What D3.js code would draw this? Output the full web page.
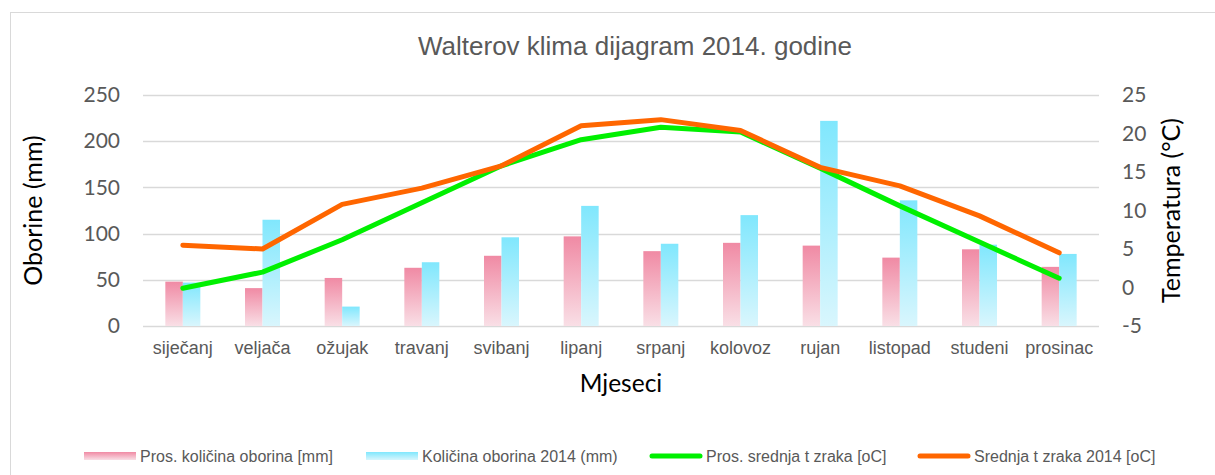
<!DOCTYPE html>
<html><head><meta charset="utf-8">
<script src="https://cdn.jsdelivr.net/npm/d3@7"></script>
<style>body{margin:0;background:#fff}svg{display:block}</style>
</head><body>
<svg id="c" width="1215" height="475"></svg>
<script>
const months = ["siječanj","veljača","ožujak","travanj","svibanj","lipanj","srpanj","kolovoz","rujan","listopad","studeni","prosinac"];
const precipAvg = [48, 41, 52, 63, 76, 97, 81, 90, 87, 74, 83, 64];
const precip2014 = [47, 115, 21, 69, 96, 130, 89, 120, 222, 136, 88, 78];
const tempAvg = [-0.1, 2.0, 6.2, 11.0, 15.8, 19.2, 20.8, 20.2, 15.5, 10.6, 5.9, 1.2];
const temp2014 = [5.5, 5.0, 10.8, 12.9, 15.8, 21.0, 21.8, 20.4, 15.6, 13.2, 9.3, 4.5];
const precipTicks = [0, 50, 100, 150, 200, 250];
const tempTicks = [-5, 0, 5, 10, 15, 20, 25];
const seriesNames = ["Pros. količina oborina [mm]", "Količina oborina 2014 (mm)", "Pros. srednja t zraka [oC]", "Srednja t zraka 2014 [oC]"];

const svg = d3.select("#c");
const L = 143, R = 1099, T = 95, B = 326;
const grey = "#595959";

// outer frame
svg.append("rect").attr("x", 10.5).attr("y", 12.5).attr("width", 1230).attr("height", 500)
  .attr("fill", "none").attr("stroke", "#d9d9d9").attr("stroke-width", 1);

const defs = svg.append("defs");
const gp = defs.append("linearGradient").attr("id", "gp").attr("x1", 0).attr("y1", 0).attr("x2", 0).attr("y2", 1);
gp.append("stop").attr("offset", "0%").attr("stop-color", "#f08aa4");
gp.append("stop").attr("offset", "100%").attr("stop-color", "#f9dfe6");
const gb = defs.append("linearGradient").attr("id", "gb").attr("x1", 0).attr("y1", 0).attr("x2", 0).attr("y2", 1);
gb.append("stop").attr("offset", "0%").attr("stop-color", "#80e7fd");
gb.append("stop").attr("offset", "100%").attr("stop-color", "#d9f6fd");

const x = d3.scaleBand().domain(months).range([L, R]).paddingInner(0).paddingOuter(0);
const yP = d3.scaleLinear().domain([0, 250]).range([B, T]);
const yT = d3.scaleLinear().domain([-5, 25]).range([B, T]);

// title
svg.append("text").attr("x", 635).attr("y", 55).attr("text-anchor", "middle")
  .attr("font-family", "Liberation Sans, Arial, sans-serif").attr("font-size", 26).attr("fill", grey)
  .text("Walterov klima dijagram 2014. godine");

// gridlines
svg.append("g").selectAll("line").data(precipTicks).join("line")
  .attr("x1", L).attr("x2", R).attr("y1", d => Math.round(yP(d)) + 0.5).attr("y2", d => Math.round(yP(d)) + 0.5)
  .attr("stroke", "#d9d9d9").attr("stroke-width", 1.5);

// left axis
const ax = d3.axisLeft(yP).tickValues(precipTicks).tickSize(0).tickPadding(23);
const gL = svg.append("g").attr("transform", `translate(${L},0)`).call(ax);
gL.select(".domain").remove();
gL.selectAll("text").attr("font-family", "Lato, Open Sans, sans-serif").attr("font-size", 21).attr("fill", grey);

// right axis
const ar = d3.axisRight(yT).tickValues(tempTicks).tickSize(0).tickPadding(23)
  .tickFormat(d => d < 0 ? "-" + Math.abs(d) : String(d));
const gR = svg.append("g").attr("transform", `translate(${R},0)`).call(ar);
gR.select(".domain").remove();
gR.selectAll("text").attr("font-family", "Lato, Open Sans, sans-serif").attr("font-size", 21).attr("fill", grey);

// bottom axis
const ab = d3.axisBottom(x).tickSize(0).tickPadding(15);
const gB = svg.append("g").attr("transform", `translate(0,${B})`).call(ab);
gB.select(".domain").remove();
gB.selectAll("text").attr("font-family", "Liberation Sans, Arial, sans-serif").attr("font-size", 18).attr("fill", grey);

// axis titles
svg.append("text").attr("transform", `translate(42,${(T + B) / 2}) rotate(-90)`).attr("text-anchor", "middle")
  .attr("font-family", "Lato, Open Sans, sans-serif").attr("font-size", 25).attr("fill", "#000").text("Oborine (mm)");
svg.append("text").attr("transform", `translate(1180,${(T + B) / 2}) rotate(-90)`).attr("text-anchor", "middle")
  .attr("font-family", "Lato, Open Sans, sans-serif").attr("font-size", 25).attr("fill", "#000").text("Temperatura (°C)");
svg.append("text").attr("x", 621).attr("y", 392).attr("text-anchor", "middle")
  .attr("font-family", "Lato, Open Sans, sans-serif").attr("font-size", 24.5).attr("fill", "#000").text("Mjeseci");

// bars
const bw = 17.5;
svg.append("g").selectAll("rect").data(precipAvg).join("rect")
  .attr("x", (d, i) => x(months[i]) + x.bandwidth() / 2 - bw)
  .attr("y", d => yP(d)).attr("width", bw).attr("height", d => B - yP(d)).attr("fill", "url(#gp)");
svg.append("g").selectAll("rect").data(precip2014).join("rect")
  .attr("x", (d, i) => x(months[i]) + x.bandwidth() / 2)
  .attr("y", d => yP(d)).attr("width", bw).attr("height", d => B - yP(d)).attr("fill", "url(#gb)");

// lines
const line = d3.line().x((d, i) => x(months[i]) + x.bandwidth() / 2).y(d => yT(d));
svg.append("path").datum(tempAvg).attr("d", line).attr("fill", "none").attr("stroke", "#00f000")
  .attr("stroke-width", 5).attr("stroke-linejoin", "round").attr("stroke-linecap", "round");
svg.append("path").datum(temp2014).attr("d", line).attr("fill", "none").attr("stroke", "#ff6600")
  .attr("stroke-width", 5).attr("stroke-linejoin", "round").attr("stroke-linecap", "round");

// legend
const legX = [84, 366, 650, 918];
const lg = svg.append("g");
seriesNames.forEach((n, i) => {
  if (i < 2) {
    lg.append("rect").attr("x", legX[i]).attr("y", 452).attr("width", 52).attr("height", 8)
      .attr("fill", i === 0 ? "url(#gp)" : "url(#gb)");
  } else {
    lg.append("line").attr("x1", legX[i] + 2).attr("x2", legX[i] + 50).attr("y1", 456).attr("y2", 456)
      .attr("stroke", i === 2 ? "#00f000" : "#ff6600").attr("stroke-width", 5).attr("stroke-linecap", "round");
  }
  lg.append("text").attr("x", legX[i] + 56).attr("y", 462)
    .attr("font-family", "Liberation Sans, Arial, sans-serif").attr("font-size", 16).attr("fill", grey).text(n);
});
</script>
</body></html>
